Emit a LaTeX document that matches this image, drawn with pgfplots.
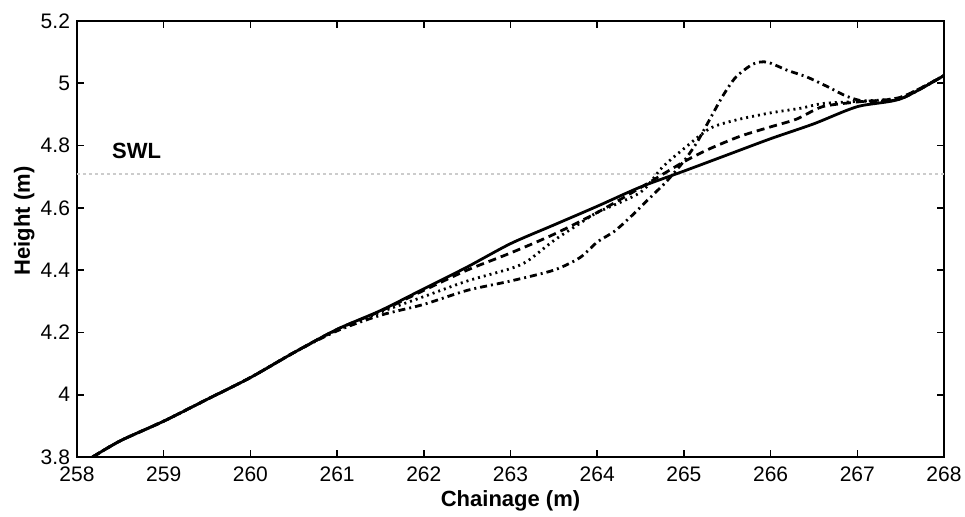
\documentclass[border=0pt]{standalone}
\usepackage{fontspec}
\setmainfont{Liberation Sans}
\usepackage{pgfplots}
\pgfplotsset{compat=1.18}
\begin{document}
\begin{tikzpicture}
\useasboundingbox (-38.5pt,-30pt) rectangle (444pt,228.5pt);
\begin{axis}[
  at={(0,0)}, anchor=south west,
  scale only axis, width=433.5pt, height=218pt,
  xmin=258, xmax=268, ymin=3.8, ymax=5.2,
  xtick={258,...,268},
  ytick={3.8,4,4.2,4.4,4.6,4.8,5,5.2},
  yticklabels={3.8,4,4.2,4.4,4.6,4.8,5,5.2},
  xticklabels={258,259,260,261,262,263,264,265,266,267,268},
  tick pos=both, tick align=inside, major tick length=3.5pt,
  axis line style={line width=0.9pt},
  every tick/.style={black, line width=0.8pt},
  /pgf/number format/assume math mode=true,
  tick label style={font=\fontsize{10.5}{12}\selectfont},
  xticklabel style={yshift=-1.5pt},
  xlabel={Chainage (m)}, ylabel={Height (m)},
  label style={font=\fontsize{11}{13}\selectfont\bfseries},
  xlabel style={at={(axis description cs:0.5,0)}, anchor=base, yshift=-25pt},
  ylabel style={at={(axis description cs:0,0.5)}, anchor=base, yshift=23.5pt, xshift=9pt},
  clip=true,
  every axis plot/.append style={smooth, tension=0.45},
]
% SWL
\addplot[gray!40, line width=1pt, dash pattern=on 1.5pt off 1.5pt, sharp plot] coordinates {(258,4.71) (268,4.71)};
% solid
\addplot[black, line width=1.4pt] coordinates {
(258.18,3.800) (258.5,3.852) (259,3.915) (259.5,3.985) (260,4.055) (260.5,4.135)
(261,4.210) (261.5,4.270) (262,4.340) (262.5,4.410) (263,4.485) (263.5,4.545)
(264,4.605) (264.5,4.667) (265,4.718) (265.5,4.770) (266,4.822) (266.5,4.870)
(267,4.925) (267.5,4.950) (268,5.025)};
% dashed
\addplot[black, line width=1.4pt, dash pattern=on 4pt off 2.5pt] coordinates {
(258.18,3.800) (258.5,3.852) (259,3.915) (259.5,3.985) (260,4.055) (260.5,4.135)
(261,4.210) (261.5,4.268) (262,4.335) (262.5,4.400) (263,4.455) (263.5,4.515)
(264,4.585) (264.5,4.665) (265,4.748) (265.3,4.790) (265.65,4.830) (266,4.860)
(266.3,4.885) (266.6,4.925) (267,4.940) (267.5,4.955) (268,5.025)};
% dotted
\addplot[black, line width=1.4pt, dash pattern=on 1pt off 2pt] coordinates {
(258.18,3.800) (258.5,3.852) (259,3.915) (259.5,3.985) (260,4.055) (260.5,4.135)
(261,4.208) (261.5,4.265) (262,4.315) (262.5,4.365) (263,4.405) (263.2,4.430)
(263.5,4.495) (263.8,4.550) (264,4.585) (264.5,4.650) (264.75,4.730) (265,4.790)
(265.3,4.855) (265.6,4.882) (266,4.905) (266.35,4.920) (266.6,4.935) (267,4.942)
(267.5,4.955) (268,5.025)};
% dash-dot
\addplot[black, line width=1.4pt, dash pattern=on 3.5pt off 2pt on 1pt off 2pt] coordinates {
(258.18,3.800) (258.5,3.852) (259,3.915) (259.5,3.985) (260,4.055) (260.5,4.135)
(261,4.205) (261.5,4.255) (262,4.290) (262.5,4.335) (263,4.365) (263.5,4.400)
(263.8,4.440) (264,4.490) (264.2,4.525) (264.4,4.575) (264.6,4.630) (264.8,4.685)
(265,4.750) (265.15,4.810) (265.3,4.885) (265.45,4.960) (265.6,5.020) (265.8,5.062)
(265.96,5.068) (266.19,5.042) (266.42,5.020) (266.65,4.990) (266.88,4.958) (267.1,4.942)
(267.5,4.950) (268,5.025)};
\node[anchor=base west, font=\fontsize{11}{13}\selectfont\bfseries, inner sep=0pt] at (axis cs:258.4,4.76) {SWL};
\end{axis}
\end{tikzpicture}
\end{document}
